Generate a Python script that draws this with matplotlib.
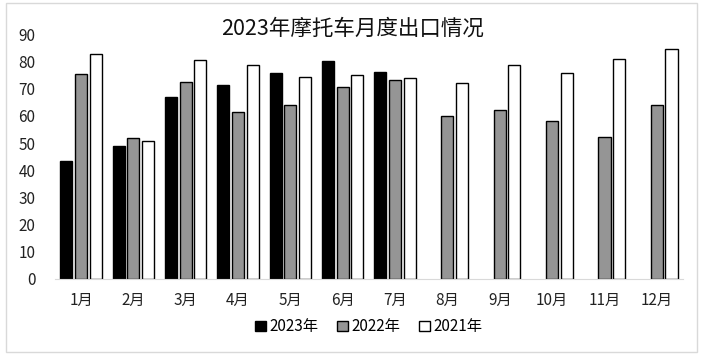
import matplotlib
matplotlib.use("Agg")
import matplotlib.pyplot as plt
import matplotlib.patches as mpatches
import numpy as np

plt.rcParams['font.family'] = ['Noto Sans CJK SC', 'DejaVu Sans']

months = [f"{i}月" for i in range(1, 13)]
exp_2023 = [43.4, 49.0, 66.9, 71.3, 75.8, 80.2, 76.1]
exp_2022 = [75.4, 51.9, 72.5, 61.4, 63.9, 70.6, 73.2, 59.9, 62.2, 58.1, 52.2, 64.0]
exp_2021 = [82.7, 50.6, 80.5, 78.7, 74.3, 75.0, 73.9, 72.1, 78.7, 75.8, 80.9, 84.6]

fig = plt.figure(figsize=(7.03, 3.58), dpi=100)
ax = fig.add_axes([0.078, 0.2207, 0.8936, 0.6833])

x = np.arange(len(months))
w = 0.23
off = 0.28
ax.bar(x[:len(exp_2023)] - off, exp_2023, w, color="black", edgecolor="black", linewidth=1, label="2023年")
ax.bar(x + 0, exp_2022, w, color="#959595", edgecolor="black", linewidth=1, label="2022年")
ax.bar(x + off, exp_2021, w, color="white", edgecolor="black", linewidth=1, label="2021年")

ax.set_xlim(-0.5, len(months) - 0.5)
ax.set_ylim(0, 90)
ax.set_yticks(range(0, 91, 10))
ax.set_xticks(x)
ax.set_xticklabels(months)
ax.tick_params(axis="both", length=0, labelsize=11, colors="#222222")
ax.tick_params(axis="x", pad=9)
ax.tick_params(axis="y", pad=14)
for s in ["top", "right", "left"]:
    ax.spines[s].set_visible(False)
ax.spines["bottom"].set_color("#d9d9d9")

# 标题（略压在绘图区上沿）
fig.text(0.501, 0.919, "2023年摩托车月度出口情况", fontsize=15.5, color="#111111",
         ha="center", va="center")

ax.legend(loc="upper center", bbox_to_anchor=(0.5, -0.105), ncol=3, frameon=False,
          fontsize=11, handlelength=0.7, handleheight=0.7, handletextpad=0.25,
          columnspacing=1.2)

# 外框
fig.patches.append(mpatches.Rectangle((0.008, 0.017), 0.983, 0.974, transform=fig.transFigure,
                                      fill=False, edgecolor="#d9d9d9", linewidth=1))

fig.savefig("out.png", dpi=100)
plt.close(fig)
